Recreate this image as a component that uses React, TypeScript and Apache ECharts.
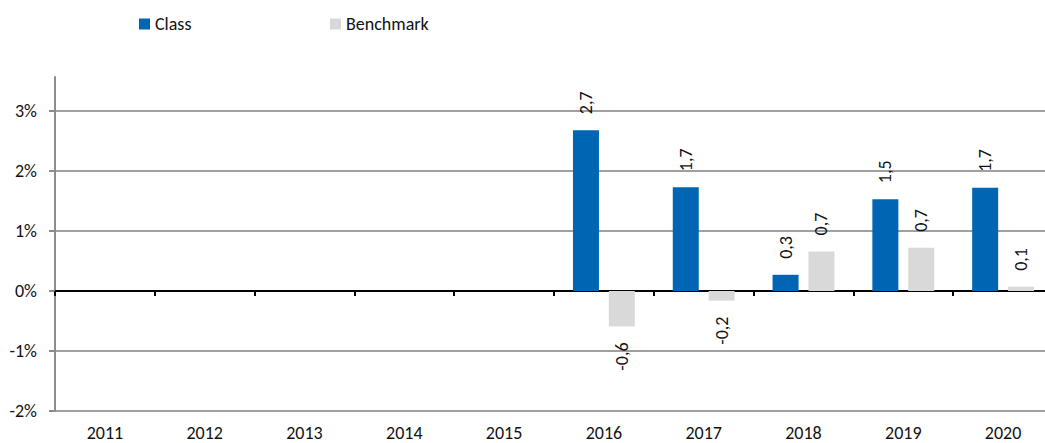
import React, { useEffect, useRef } from "react";
import * as echarts from "echarts";

const categories = ["2011", "2012", "2013", "2014", "2015", "2016", "2017", "2018", "2019", "2020"];
const classValues: (number | null)[] = [null, null, null, null, null, 2.68, 1.73, 0.27, 1.53, 1.72];
const benchmarkValues: (number | null)[] = [null, null, null, null, null, -0.59, -0.16, 0.66, 0.72, 0.07];
const yTicks = [-2, -1, 0, 1, 2, 3];

const FONT = "Carlito, Calibri, Lato, sans-serif";
const FS = 18;
const TXT = "#111";

function toItems(values: (number | null)[]) {
  return values.map((v) => {
    if (v === null) return { value: null };
    const neg = v < 0;
    return {
      value: v,
      label: {
        position: neg ? "bottom" : "top",
        align: neg ? "right" : "left",
        verticalAlign: "middle",
      },
    };
  });
}

export default function App() {
  const ref = useRef<HTMLDivElement>(null);
  useEffect(() => {
    if (!ref.current) return;
    const chart = echarts.init(ref.current, null, { renderer: "svg" });
    const labelCfg = {
      show: true,
      rotate: 90,
      distance: 16,
      fontFamily: FONT,
      fontSize: FS,
      color: TXT,
      formatter: (p: any) => (p.value == null ? "" : Number(p.value).toFixed(1).replace(".", ",")),
    };
    const legendBase = {
      top: 15,
      padding: 0,
      icon: "rect",
      itemWidth: 11,
      itemHeight: 11,
      textStyle: { fontFamily: FONT, fontSize: FS, color: TXT },
    };
    chart.setOption({
      animation: false,
      backgroundColor: "#fff",
      textStyle: { fontFamily: FONT },
      legend: [
        { ...legendBase, data: ["Class"], left: 139 },
        { ...legendBase, data: ["Benchmark"], left: 330 },
      ],
      grid: [
        { left: 55, right: 0, top: 111, bottom: 32, containLabel: false },
        { left: 55, right: 0, top: 77, bottom: 32, containLabel: false },
      ],
      xAxis: [
        {
          type: "category",
          gridIndex: 0,
          data: categories,
          position: "bottom",
          axisLine: { onZero: true, lineStyle: { color: "#000", width: 2 } },
          axisTick: { show: true, length: 5, lineStyle: { color: "#000", width: 2 } },
          axisLabel: { show: false },
          splitLine: { show: false },
        },
        {
          type: "category",
          gridIndex: 0,
          data: categories,
          position: "bottom",
          axisLine: { show: false, onZero: false },
          axisTick: { show: false },
          axisLabel: {
            show: true,
            margin: 15,
            lineHeight: 13,
            fontFamily: FONT,
            fontSize: FS,
            color: TXT,
          },
          splitLine: { show: false },
        },
        {
          type: "category",
          gridIndex: 1,
          data: categories,
          show: false,
        },
      ],
      yAxis: [
        {
          type: "value",
          gridIndex: 0,
          min: yTicks[0],
          max: yTicks[yTicks.length - 1],
          interval: 1,
          axisLine: { show: true, lineStyle: { color: "#8c8c8c", width: 2 } },
          axisTick: { show: true, length: 6, lineStyle: { color: "#8c8c8c", width: 2 } },
          axisLabel: {
            margin: 18,
            fontFamily: FONT,
            fontSize: FS,
            color: TXT,
            formatter: (v: number) => `${v}%`,
          },
          splitLine: { show: true, lineStyle: { color: "#a0a0a0", width: 2 } },
        },
        {
          type: "value",
          gridIndex: 1,
          min: 0,
          max: 1,
          axisLine: { show: true, lineStyle: { color: "#8c8c8c", width: 2 } },
          axisTick: { show: false },
          axisLabel: { show: false },
          splitLine: { show: false },
        },
      ],
      series: [
        {
          name: "Class",
          type: "bar",
          xAxisIndex: 0,
          yAxisIndex: 0,
          data: toItems(classValues),
          barWidth: 26,
          barGap: "38%",
          itemStyle: { color: "#0066B3" },
          label: labelCfg,
        },
        {
          name: "Benchmark",
          type: "bar",
          xAxisIndex: 0,
          yAxisIndex: 0,
          data: toItems(benchmarkValues),
          barWidth: 26,
          barGap: "38%",
          itemStyle: { color: "#D9D9D9" },
          label: labelCfg,
        },
      ],
    });
    return () => chart.dispose();
  }, []);
  return (
    <div
      ref={ref}
      style={{ position: "fixed", left: 0, top: 0, width: 1053, height: 443, background: "#fff" }}
    />
  );
}
